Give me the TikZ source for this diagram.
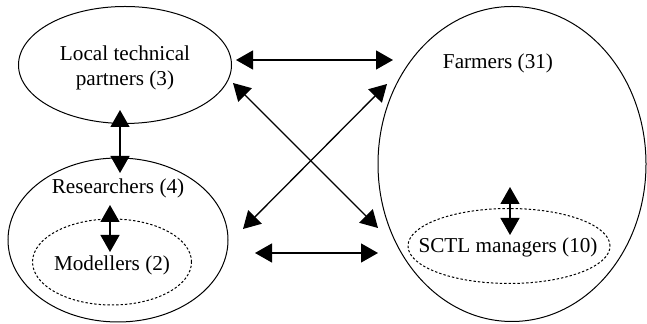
\documentclass[tikz,border=0pt]{standalone}
\usepackage{fontspec}
\setmainfont{Liberation Serif}
\usetikzlibrary{shapes.geometric, arrows.meta}

\begin{document}
\begin{tikzpicture}[x=0.5pt, y=-0.5pt,
  group/.style={draw, ellipse, line width=0.5pt, inner sep=0pt},
  subgroup/.style={group, dash pattern=on 1.2pt off 1pt},
  link/.style={line width=0.65pt, {Triangle[length=8.5pt,width=9.5pt]}-{Triangle[length=8.5pt,width=9.5pt]}},
  lbl/.style={font=\fontsize{10.6}{12.5}\selectfont, align=center}]
\useasboundingbox (0,0) rectangle (647,324);

% groups
\node[group, minimum width=106.5pt, minimum height=58.5pt] (ltp) at (125,65) {};
\node[group, minimum width=110pt, minimum height=82pt] (res) at (118,240) {};
\node[subgroup, minimum width=79.5pt, minimum height=43pt] (mod) at (112,262) {};
\node[group, minimum width=134pt, minimum height=157.5pt] (farm) at (512,164) {};
\node[subgroup, minimum width=101pt, minimum height=37.5pt] (sctl) at (509,246) {};

% labels
\node[lbl] (ltplbl) at (125,68) {Local technical\\partners (3)};
\node[lbl] (reslbl) at (118,188) {Researchers (4)};
\node[lbl] (modlbl) at (112,265) {Modellers (2)};
\node[lbl] (farmlbl) at (498,63) {Farmers (31)};
\node[lbl] (sctllbl) at (508,247) {SCTL managers (10)};

% arrow ends
\coordinate (ltpS) at (120,110);
\coordinate (resN) at (120,173);
\coordinate (resI) at (110,205);
\coordinate (modN) at (110,252);
\coordinate (farmI) at (510,187);
\coordinate (sctlN) at (510,235);
\coordinate (ltpE) at (236,60);
\coordinate (farmW) at (393,60);
\coordinate (ltpSE) at (233,83);
\coordinate (sctlW) at (378,228);
\coordinate (farmSW) at (387,84);
\coordinate (resNE) at (243,229);
\coordinate (resE) at (255,253);
\coordinate (farmS) at (378,253);

\draw[link] (ltpS) -- (resN);
\draw[link] (resI) -- (modN);
\draw[link] (farmI) -- (sctlN);
\draw[link] (ltpE) -- (farmW);
\draw[link] (ltpSE) -- (sctlW);
\draw[link] (farmSW) -- (resNE);
\draw[link] (resE) -- (farmS);
\end{tikzpicture}
\end{document}
